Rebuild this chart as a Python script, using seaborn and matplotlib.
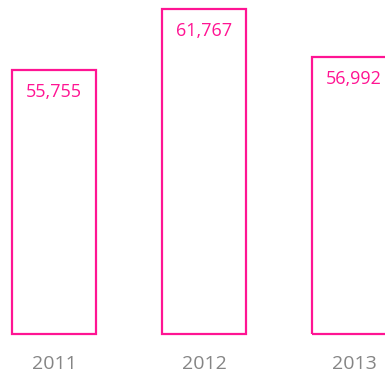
import matplotlib
matplotlib.use("Agg")
import matplotlib.pyplot as plt
import seaborn as sns
import pandas as pd

years = ["2011", "2012", "2013"]
values = [55755, 61767, 56992]

PINK = "#ff1493"
GREY = "#858585"

sns.set_style("white")
plt.rcParams["font.family"] = ["Open Sans", "DejaVu Sans"]

df = pd.DataFrame({"year": years, "value": values})

fig = plt.figure(figsize=(3.85, 3.74), dpi=100)
ax = fig.add_axes([0, 36 / 374, 1, 338 / 374])

sns.barplot(data=df, x="year", y="value", ax=ax, width=0.56,
            fill=False, color=PINK, linewidth=1.6)

# value axis starts well above zero
base = 29735
px = 98.56  # value units per pixel
ax.set_ylim(base - 4 * px, base + 334 * px)
ax.set_xlim(-0.36, 2.205)

for patch in ax.patches:
    patch.set_edgecolor(PINK)
    top = patch.get_y() + patch.get_height()
    patch.set_y(base)
    patch.set_height(top - base)

for i, v in enumerate(values):
    ax.annotate(f"{v:,}", xy=(i, v), xytext=(0, -22 * 0.72),
                textcoords="offset points", ha="center", va="center",
                color=PINK, fontsize=13)

ax.set_xlabel("")
ax.set_ylabel("")
ax.set_yticks([])
ax.tick_params(axis="x", length=0, pad=12.5, labelsize=14, labelcolor=GREY)
sns.despine(ax=ax, left=True, bottom=True)

fig.savefig("out.png", dpi=100)
